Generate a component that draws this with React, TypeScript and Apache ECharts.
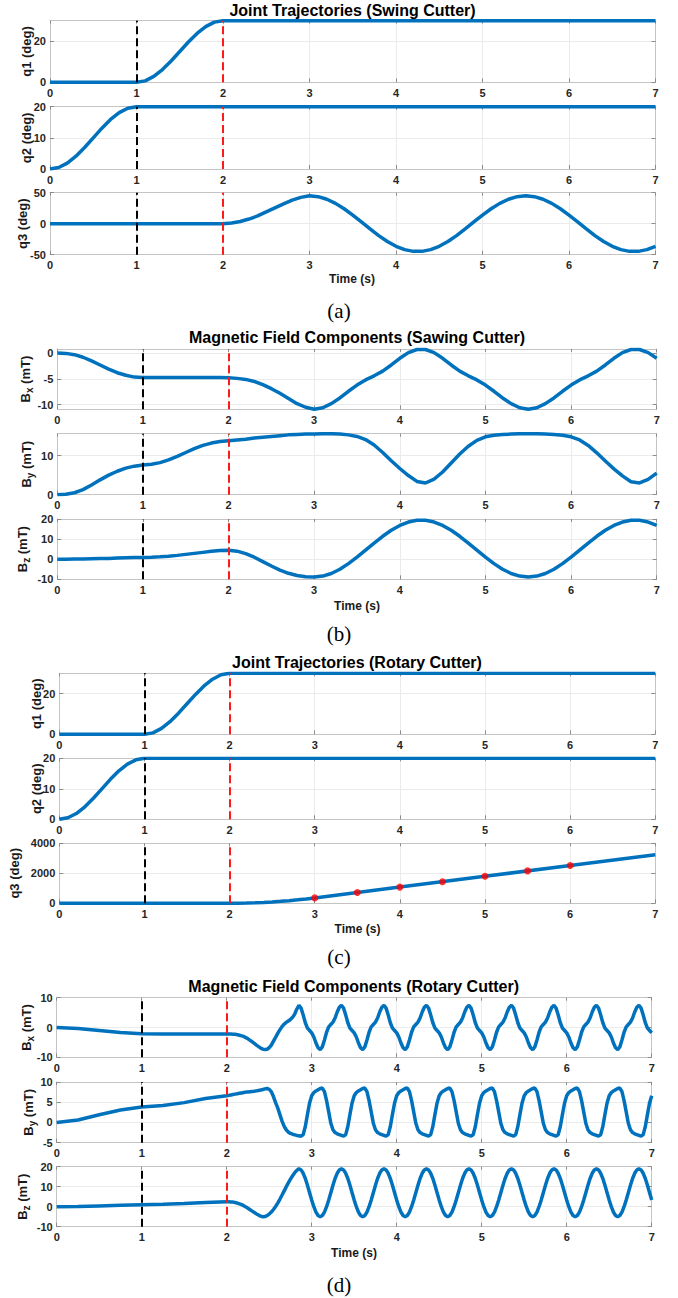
import React, { useEffect, useRef } from "react";
import * as echarts from "echarts";

// sampling grid helper (time axis only)
function seq(a: number, b: number, s: number): number[] {
  const n = Math.round((b - a) / s) + 1;
  return Array.from({ length: n }, (_, i) => Math.round((a + i * s) * 1000) / 1000);
}

// ---------------- DATA ----------------
const xTicks = [0, 1, 2, 3, 4, 5, 6, 7];
const phaseLines = [1, 2];

// q1 / q2 (same in swing and rotary cases)
const q1T = [0, 1, 1.1, 1.2, 1.3, 1.4, 1.5, 1.6, 1.7, 1.8, 1.9, 2, 7];
const q1V = [0, 0, 0.7, 2.9, 6.2, 10.4, 15, 19.6, 23.8, 27.1, 29.3, 30, 30];
const q2T = [0, 0.1, 0.2, 0.3, 0.4, 0.5, 0.6, 0.7, 0.8, 0.9, 1, 7];
const q2V = [0, 0.5, 1.9, 4.1, 6.9, 10, 13.1, 15.9, 18.1, 19.5, 20, 20];

// (a) q3 swing
const aQ3T = [0, ...seq(2, 7, 0.1)];
const aQ3V = [
  0,
  0, 1, 3.5, 7.5, 12.5, 19, 25.5, 32, 38, 42.5, 45,
  43.6, 39.4, 32.8, 24.1, 13.9, 2.8, -8.4, -19.2, -28.7, -36.4,
  -41.8, -44.6, -44.6, -41.8, -36.4, -28.7, -19.2, -8.4, 2.8, 13.9,
  24.1, 32.8, 39.4, 43.6, 45, 43.6, 39.4, 32.8, 24.1, 13.9,
  2.8, -8.4, -19.2, -28.7, -36.4, -41.8, -44.6, -44.6, -41.8, -36.4,
];

// (b) magnetic field, sawing cutter
const bT = seq(0, 7, 0.1);
const bBxV = [
  0, -0.05, -0.3, -0.8, -1.5, -2.3, -3.1, -3.8, -4.3, -4.65, -4.75,
  -4.75, -4.75, -4.75, -4.75, -4.75, -4.75, -4.75, -4.75, -4.75, -4.8,
  -4.9, -5.1, -5.5, -6.1, -6.9, -7.8, -8.8, -9.8, -10.5, -10.9,
  -10.6, -9.8, -8.7, -7.4, -6.2, -5.2, -4.4, -3.5, -2.3, -1.0,
  0.1, 0.7, 0.7, 0.1, -1.0, -2.3, -3.5, -4.4, -5.2, -6.2,
  -7.4, -8.7, -9.8, -10.6, -10.9, -10.6, -9.8, -8.7, -7.4, -6.2,
  -5.2, -4.4, -3.5, -2.3, -1.0, 0.1, 0.7, 0.7, 0.1, -1.0,
];
const bByV = [
  0, 0.1, 0.5, 1.3, 2.5, 3.8, 5.0, 6.0, 6.8, 7.3, 7.6,
  7.8, 8.2, 8.9, 9.8, 10.8, 11.8, 12.6, 13.2, 13.6, 13.8,
  14.0, 14.2, 14.5, 14.7, 14.9, 15.1, 15.3, 15.4, 15.5, 15.5,
  15.6, 15.6, 15.5, 15.3, 14.9, 14.1, 12.7, 10.8, 8.7, 6.7,
  4.9, 3.4, 3.0, 4.0, 5.8, 8.1, 10.4, 12.4, 13.9, 14.8,
  15.2, 15.4, 15.5, 15.6, 15.6, 15.6, 15.5, 15.4, 15.2, 14.8,
  14.0, 12.6, 10.7, 8.6, 6.6, 4.8, 3.3, 3.0, 3.9, 5.5,
];
const bBzV = [
  0, 0, 0.05, 0.1, 0.2, 0.3, 0.4, 0.6, 0.7, 0.8, 0.9,
  1.0, 1.2, 1.5, 1.9, 2.4, 2.9, 3.4, 3.9, 4.3, 4.5,
  4.0, 2.8, 1.0, -1.2, -3.4, -5.4, -7.0, -8.1, -8.7, -8.8,
  -8.4, -7.1, -5.0, -2.2, 1.0, 4.5, 8.0, 11.4, 14.4, 16.8,
  18.5, 19.4, 19.4, 18.5, 16.8, 14.4, 11.4, 8.0, 4.5, 1.0,
  -2.2, -5.0, -7.1, -8.4, -8.8, -8.4, -7.1, -5.0, -2.2, 1.0,
  4.5, 8.0, 11.4, 14.4, 16.8, 18.5, 19.4, 19.4, 18.5, 16.8,
];

// (c) q3 rotary
const cQ3T = [0, 2, 2.1, 2.2, 2.3, 2.4, 2.5, 2.6, 2.7, 2.8, 2.9, 3, 4, 5, 6, 7];
const cQ3V = [0, 0, 3.6, 14.4, 32.4, 57.6, 90, 129.6, 176.4, 230.4, 291.6, 360, 1080, 1800, 2520, 3240];
const cDotT = [3, 3.5, 4, 4.5, 5, 5.5, 6];
const cDotV = [360, 720, 1080, 1440, 1800, 2160, 2520];

// (d) magnetic field, rotary cutter
const dT = [0, 0.25, 0.5, 0.75, 1, 1.25, 1.5, 1.75, ...seq(2, 7, 0.025)];
const dBxV = [
  0, -0.3, -1.0, -1.7, -2.1, -2.2, -2.2, -2.2,
  -2.2, -2.2, -2.2, -2.25, -2.3, -2.4, -2.6, -2.8, -3.0, -3.4, -3.8, -4.3, -4.8, -5.35, -5.9, -6.4, -6.9, -7.25,
  -7.4, -7.3, -6.8, -5.9, -4.6, -3.3, -2.0, -0.8, 0.3, 1.1, 1.7, 2.2, 2.7, 3.4, 4.5, 6.2, 7.4,
  6.5, 4.2, 1.6, -0.2, -1.0, -1.8, -3.2, -5.2, -6.8, -7.4, -6.5, -4.2, -1.6, 0.2, 1.0, 1.8, 3.2, 5.2, 6.8, 7.4,
  6.5, 4.2, 1.6, -0.2, -1.0, -1.8, -3.2, -5.2, -6.8, -7.4, -6.5, -4.2, -1.6, 0.2, 1.0, 1.8, 3.2, 5.2, 6.8, 7.4,
  6.5, 4.2, 1.6, -0.2, -1.0, -1.8, -3.2, -5.2, -6.8, -7.4, -6.5, -4.2, -1.6, 0.2, 1.0, 1.8, 3.2, 5.2, 6.8, 7.4,
  6.5, 4.2, 1.6, -0.2, -1.0, -1.8, -3.2, -5.2, -6.8, -7.4, -6.5, -4.2, -1.6, 0.2, 1.0, 1.8, 3.2, 5.2, 6.8, 7.4,
  6.5, 4.2, 1.6, -0.2, -1.0, -1.8, -3.2, -5.2, -6.8, -7.4, -6.5, -4.2, -1.6, 0.2, 1.0, 1.8, 3.2, 5.2, 6.8, 7.4,
  6.5, 4.2, 1.6, -0.2, -1.0, -1.8, -3.2, -5.2, -6.8, -7.4, -6.5, -4.2, -1.6, 0.2, 1.0, 1.8, 3.2, 5.2, 6.8, 7.4,
  6.5, 4.2, 1.6, -0.2, -1.0, -1.8, -3.2, -5.2, -6.8, -7.4, -6.5, -4.2, -1.6, 0.2, 1.0, 1.8, 3.2, 5.2, 6.8, 7.4,
  6.5, 4.2, 1.6, -0.2, -1.0, -1.8, -3.2, -5.2, -6.8, -7.4, -6.5, -4.2, -1.6, 0.2, 1.0, 1.8, 3.2, 5.2, 6.8, 7.4,
  6.5, 4.2, 1.6, -0.2, -1.0, -1.8,
];
const dByV = [
  0, 0.6, 1.9, 3.1, 3.8, 4.2, 4.9, 5.9,
  6.6, 6.7, 6.8, 6.9, 7.0, 7.1, 7.2, 7.3, 7.4, 7.5, 7.55, 7.6, 7.65, 7.7, 7.8, 7.9, 8.0, 8.15,
  8.3, 8.4, 8.2, 7.6, 6.4, 4.9, 3.6, 2.0, 0.4, -0.9, -1.8, -2.4, -2.7, -2.9, -3.05, -3.2, -3.3,
  -3.4, -3.0, -1.0, 2.0, 4.8, 6.6, 7.4, 7.8, 8.1, 8.4, 8.5, 7.6, 5.4, 2.6, -0.2, -1.8, -2.5, -2.8, -3.0, -3.2,
  -3.4, -3.0, -1.0, 2.0, 4.8, 6.6, 7.4, 7.8, 8.1, 8.4, 8.5, 7.6, 5.4, 2.6, -0.2, -1.8, -2.5, -2.8, -3.0, -3.2,
  -3.4, -3.0, -1.0, 2.0, 4.8, 6.6, 7.4, 7.8, 8.1, 8.4, 8.5, 7.6, 5.4, 2.6, -0.2, -1.8, -2.5, -2.8, -3.0, -3.2,
  -3.4, -3.0, -1.0, 2.0, 4.8, 6.6, 7.4, 7.8, 8.1, 8.4, 8.5, 7.6, 5.4, 2.6, -0.2, -1.8, -2.5, -2.8, -3.0, -3.2,
  -3.4, -3.0, -1.0, 2.0, 4.8, 6.6, 7.4, 7.8, 8.1, 8.4, 8.5, 7.6, 5.4, 2.6, -0.2, -1.8, -2.5, -2.8, -3.0, -3.2,
  -3.4, -3.0, -1.0, 2.0, 4.8, 6.6, 7.4, 7.8, 8.1, 8.4, 8.5, 7.6, 5.4, 2.6, -0.2, -1.8, -2.5, -2.8, -3.0, -3.2,
  -3.4, -3.0, -1.0, 2.0, 4.8, 6.6, 7.4, 7.8, 8.1, 8.4, 8.5, 7.6, 5.4, 2.6, -0.2, -1.8, -2.5, -2.8, -3.0, -3.2,
  -3.4, -3.0, -1.0, 2.0, 4.8, 6.6, 7.4, 7.8, 8.1, 8.4, 8.5, 7.6, 5.4, 2.6, -0.2, -1.8, -2.5, -2.8, -3.0, -3.2,
  -3.4, -3.0, -1.0, 2.0, 4.8, 6.6,
];
const dBzV = [
  0, 0.1, 0.4, 0.7, 1.0, 1.2, 1.6, 2.1,
  2.5, 2.5, 2.4, 2.3, 2.1, 1.8, 1.4, 1.0, 0.5, -0.1, -0.8, -1.5, -2.2, -2.9, -3.6, -4.2, -4.7, -5.0,
  -4.9, -4.5, -3.7, -2.7, -1.4, 0.1, 1.8, 3.7, 5.7, 7.8, 9.9, 11.9, 13.8, 15.5, 17.0, 18.2, 19.0,
  18.4, 16.7, 14.1, 10.7, 7.0, 3.3, 0.0, -2.7, -4.4, -5.0, -4.4, -2.7, 0.0, 3.3, 7.0, 10.7, 14.1, 16.7, 18.4, 19.0,
  18.4, 16.7, 14.1, 10.7, 7.0, 3.3, 0.0, -2.7, -4.4, -5.0, -4.4, -2.7, 0.0, 3.3, 7.0, 10.7, 14.1, 16.7, 18.4, 19.0,
  18.4, 16.7, 14.1, 10.7, 7.0, 3.3, 0.0, -2.7, -4.4, -5.0, -4.4, -2.7, 0.0, 3.3, 7.0, 10.7, 14.1, 16.7, 18.4, 19.0,
  18.4, 16.7, 14.1, 10.7, 7.0, 3.3, 0.0, -2.7, -4.4, -5.0, -4.4, -2.7, 0.0, 3.3, 7.0, 10.7, 14.1, 16.7, 18.4, 19.0,
  18.4, 16.7, 14.1, 10.7, 7.0, 3.3, 0.0, -2.7, -4.4, -5.0, -4.4, -2.7, 0.0, 3.3, 7.0, 10.7, 14.1, 16.7, 18.4, 19.0,
  18.4, 16.7, 14.1, 10.7, 7.0, 3.3, 0.0, -2.7, -4.4, -5.0, -4.4, -2.7, 0.0, 3.3, 7.0, 10.7, 14.1, 16.7, 18.4, 19.0,
  18.4, 16.7, 14.1, 10.7, 7.0, 3.3, 0.0, -2.7, -4.4, -5.0, -4.4, -2.7, 0.0, 3.3, 7.0, 10.7, 14.1, 16.7, 18.4, 19.0,
  18.4, 16.7, 14.1, 10.7, 7.0, 3.3, 0.0, -2.7, -4.4, -5.0, -4.4, -2.7, 0.0, 3.3, 7.0, 10.7, 14.1, 16.7, 18.4, 19.0,
  18.4, 16.7, 14.1, 10.7, 7.0, 3.3,
];

// y-axis tick labels per subplot
const ticksQ1 = [0, 20];
const ticksQ2 = [0, 10, 20];
const ticksQ3a = [-50, 0, 50];
const ticksBxB = [-10, -5, 0];
const ticksByB = [0, 10];
const ticksBzB = [-10, 0, 10, 20];
const ticksQ3c = [0, 2000, 4000];
const ticksBxD = [-10, 0, 10];
const ticksByD = [-5, 0, 5, 10];
const ticksBzD = [-10, 0, 10, 20];

const titles = [
  "Joint Trajectories (Swing Cutter)",
  "Magnetic Field Components (Sawing Cutter)",
  "Joint Trajectories (Rotary Cutter)",
  "Magnetic Field Components (Rotary Cutter)",
];
const captions = ["(a)", "(b)", "(c)", "(d)"];

// ---------------- LAYOUT ----------------
const SANS = "'Liberation Sans', Arial, Helvetica, sans-serif";
const SERIF = "'Liberation Serif', 'Times New Roman', serif";
const BLUE = "#0072BD";
const TXT = "#262626";

type Sub = {
  left: number; top: number; width: number; height: number;
  yMin: number; yMax: number; yTicks: number[];
  T: number[]; V: number[];
  label: string; sub?: string; lx: number;
  dots?: boolean;
};

const subs: Sub[] = [
  { left: 50, top: 20.7, width: 605.5, height: 61.6, yMin: 0, yMax: 30, yTicks: ticksQ1, T: q1T, V: q1V, label: "q1 (deg)", lx: 26.7 },
  { left: 50, top: 106.7, width: 605.5, height: 62.3, yMin: 0, yMax: 20, yTicks: ticksQ2, T: q2T, V: q2V, label: "q2 (deg)", lx: 26.7 },
  { left: 50, top: 192.7, width: 605.5, height: 62, yMin: -50, yMax: 50, yTicks: ticksQ3a, T: aQ3T, V: aQ3V, label: "q3 (deg)", lx: 22.7 },
  { left: 57.3, top: 349, width: 599.4, height: 60.3, yMin: -10.9, yMax: 0.8, yTicks: ticksBxB, T: bT, V: bBxV, label: "B", sub: "x", lx: 25 },
  { left: 57.3, top: 433.7, width: 599.4, height: 61, yMin: 0, yMax: 15.6, yTicks: ticksByB, T: bT, V: bByV, label: "B", sub: "y", lx: 26 },
  { left: 57.3, top: 519, width: 599.4, height: 60.3, yMin: -10, yMax: 20, yTicks: ticksBzB, T: bT, V: bBzV, label: "B", sub: "z", lx: 22 },
  { left: 59.3, top: 673.3, width: 596, height: 61, yMin: 0, yMax: 30, yTicks: ticksQ1, T: q1T, V: q1V, label: "q1 (deg)", lx: 36.7 },
  { left: 59.3, top: 758.3, width: 596, height: 61, yMin: 0, yMax: 20, yTicks: ticksQ2, T: q2T, V: q2V, label: "q2 (deg)", lx: 36.7 },
  { left: 59.3, top: 843.3, width: 596, height: 60, yMin: 0, yMax: 4000, yTicks: ticksQ3c, T: cQ3T, V: cQ3V, label: "q3 (deg)", lx: 14, dots: true },
  { left: 56.7, top: 997.7, width: 595, height: 59.6, yMin: -10, yMax: 10, yTicks: ticksBxD, T: dT, V: dBxV, label: "B", sub: "x", lx: 26 },
  { left: 56.7, top: 1082, width: 595, height: 60.7, yMin: -5, yMax: 10, yTicks: ticksByD, T: dT, V: dByV, label: "B", sub: "y", lx: 28 },
  { left: 56.7, top: 1166.7, width: 595, height: 60, yMin: -10, yMax: 20, yTicks: ticksBzD, T: dT, V: dBzV, label: "B", sub: "z", lx: 22 },
];

const titlePos = [
  [352.5, 10], [357, 337.3], [357, 662.7], [353.7, 986],
];
const timePos = [
  [352, 279.3], [357, 606], [357.5, 929.3], [354, 1252.7],
];
const captionPos = [
  [339, 311], [339, 634], [339, 957], [339, 1285],
];

function buildOption() {
  const grid: any[] = [];
  const xAxis: any[] = [];
  const yAxis: any[] = [];
  const series: any[] = [];
  const graphic: any[] = [];

  const axisLineStyle = { color: "#c4c4c4", width: 1 };
  const tickStyle = { color: "#8c8c8c", width: 1 };

  subs.forEach((s, i) => {
    grid.push({ left: s.left, top: s.top, width: s.width, height: s.height, containLabel: false });
    xAxis.push({
      type: "value", gridIndex: i, min: 0, max: 7, interval: 1, position: "bottom",
      axisLine: { show: true, onZero: false, lineStyle: axisLineStyle },
      axisTick: { show: true, inside: true, length: 4, lineStyle: tickStyle },
      splitLine: { show: true, lineStyle: { color: "#ebebeb", width: 1 } },
      axisLabel: { show: true, fontSize: 11, fontWeight: "bold", color: TXT, fontFamily: SANS, margin: 5, formatter: (v: number) => (xTicks.includes(v) ? String(v) : "") },
    });
    xAxis.push({
      type: "value", gridIndex: i, min: 0, max: 7, interval: 1, position: "top",
      axisLine: { show: true, onZero: false, lineStyle: axisLineStyle },
      axisTick: { show: true, inside: true, length: 3, lineStyle: tickStyle },
      splitLine: { show: false }, axisLabel: { show: false },
    });
    yAxis.push({
      type: "value", gridIndex: i, min: s.yMin, max: s.yMax, position: "left",
      axisLine: { show: true, onZero: false, lineStyle: axisLineStyle },
      axisTick: { show: true, inside: true, length: 4, lineStyle: tickStyle, customValues: s.yTicks },
      splitLine: { show: true, lineStyle: { color: "#ebebeb", width: 1 } },
      axisLabel: { show: true, fontSize: 11, fontWeight: "bold", color: TXT, fontFamily: SANS, margin: 4, customValues: s.yTicks, formatter: (v: number) => String(v) },
    });
    yAxis.push({
      type: "value", gridIndex: i, min: s.yMin, max: s.yMax, position: "right",
      axisLine: { show: true, onZero: false, lineStyle: axisLineStyle },
      axisTick: { show: true, inside: true, length: 4, lineStyle: tickStyle, customValues: s.yTicks },
      splitLine: { show: false }, axisLabel: { show: false },
    });

    series.push({
      type: "line",
      xAxisIndex: 2 * i, yAxisIndex: 2 * i,
      data: s.T.map((t, k) => [t, s.V[k]]),
      showSymbol: false, symbol: "none", smooth: false,
      lineStyle: { color: BLUE, width: 3.5 },
      z: 3,
      markLine: {
        silent: true, symbol: ["none", "none"], label: { show: false },
        animation: false,
        data: [
          { xAxis: phaseLines[0], lineStyle: { color: "#000000", type: [8, 4], width: 2 } },
          { xAxis: phaseLines[1], lineStyle: { color: "#ff1a1a", type: [8, 4], width: 2 } },
        ],
      },
    });
    if (s.dots) {
      series.push({
        type: "scatter", xAxisIndex: 2 * i, yAxisIndex: 2 * i,
        data: cDotT.map((t, k) => [t, cDotV[k]]),
        symbol: "circle", symbolSize: 7,
        itemStyle: { color: "#ff0000" }, z: 5,
      });
    }

    const cy = s.top + s.height / 2;
    if (s.sub) {
      graphic.push({
        type: "text", x: s.lx, y: cy, rotation: Math.PI / 2,
        style: {
          text: `{m|${s.label}}{s|${s.sub}}{m| (mT)}`,
          align: "center", verticalAlign: "middle",
          rich: {
            m: { fontSize: 13, fontWeight: "bold", fontFamily: SANS, fill: "#1a1a1a", lineHeight: 18, verticalAlign: "middle" },
            s: { fontSize: 10, fontWeight: "bold", fontFamily: SANS, fill: "#1a1a1a", lineHeight: 18, verticalAlign: "bottom" },
          },
        },
      });
    } else {
      graphic.push({
        type: "text", x: s.lx, y: cy, rotation: Math.PI / 2,
        style: { text: s.label, align: "center", verticalAlign: "middle", fontSize: 13, fontWeight: "bold", fontFamily: SANS, fill: "#1a1a1a" },
      });
    }
  });

  titles.forEach((t, i) => {
    graphic.push({
      type: "text", x: titlePos[i][0], y: titlePos[i][1],
      style: { text: t, align: "center", verticalAlign: "middle", fontSize: 16, fontWeight: "bold", fontFamily: SANS, fill: "#000" },
    });
    graphic.push({
      type: "text", x: timePos[i][0], y: timePos[i][1],
      style: { text: "Time (s)", align: "center", verticalAlign: "middle", fontSize: 12, fontWeight: "bold", fontFamily: SANS, fill: "#1a1a1a" },
    });
    graphic.push({
      type: "text", x: captionPos[i][0], y: captionPos[i][1],
      style: { text: captions[i], align: "center", verticalAlign: "middle", fontSize: 21, fontFamily: SERIF, fill: "#000" },
    });
  });

  return { animation: false, backgroundColor: "#ffffff", grid, xAxis, yAxis, series, graphic };
}

export default function App() {
  const ref = useRef<HTMLDivElement>(null);
  useEffect(() => {
    if (!ref.current) return;
    const chart = echarts.init(ref.current, null, { renderer: "svg" });
    chart.setOption(buildOption() as any);
    return () => chart.dispose();
  }, []);
  return (
    <div
      ref={ref}
      style={{ position: "absolute", left: 0, top: 0, width: 678, height: 1298, background: "#fff" }}
    />
  );
}
